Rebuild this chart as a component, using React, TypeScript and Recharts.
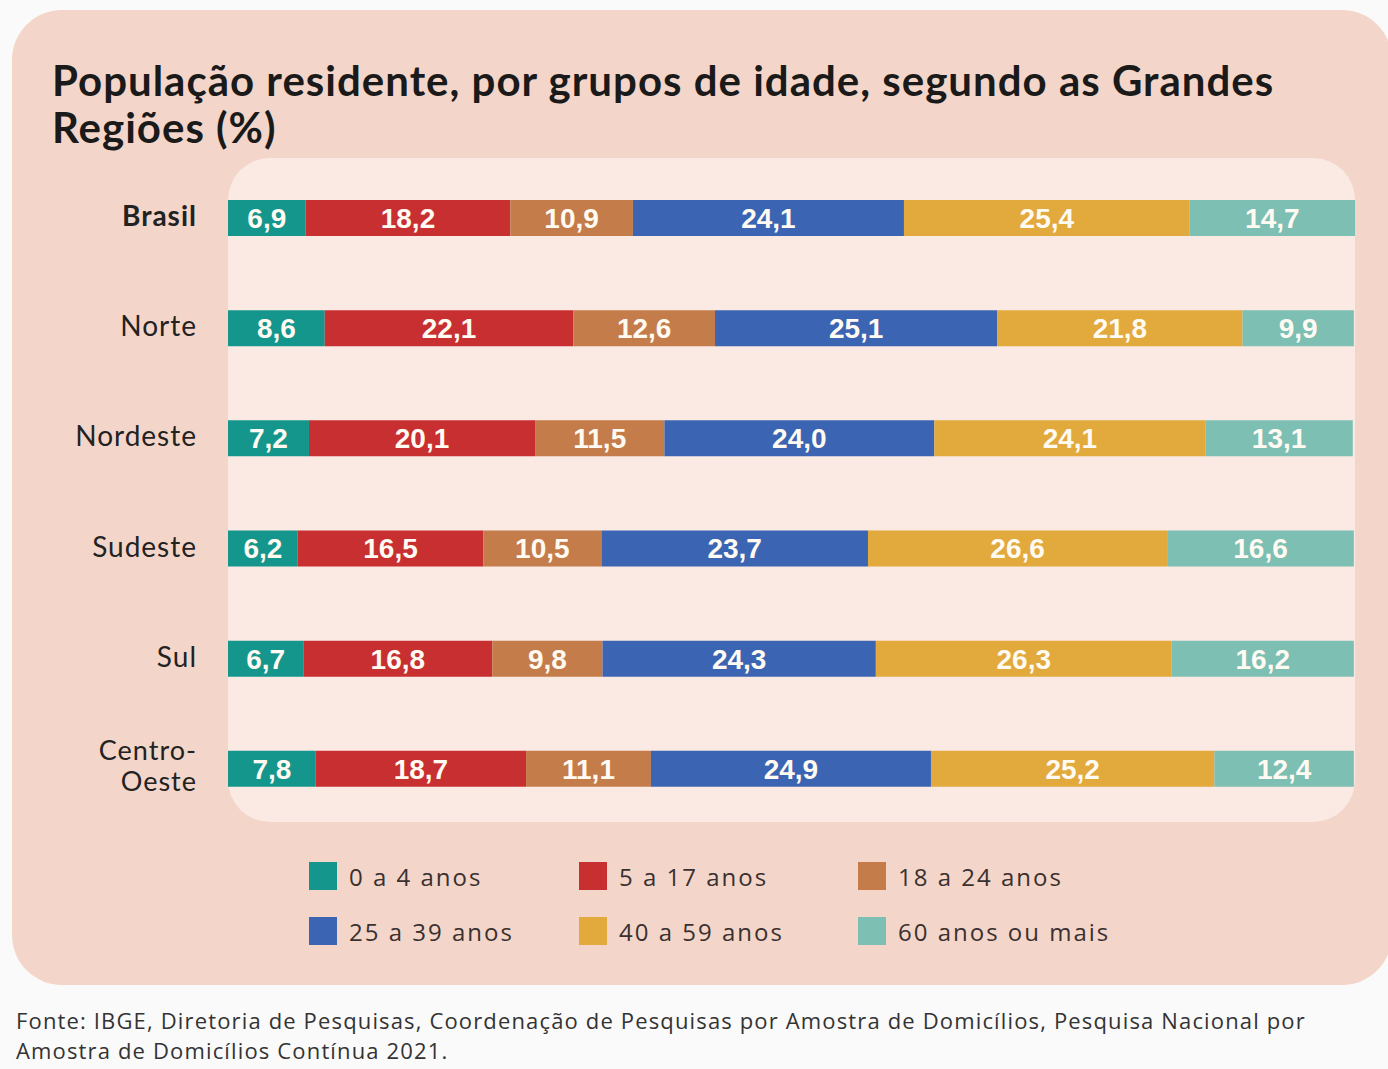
import { BarChart, Bar, XAxis, YAxis, LabelList, Legend } from 'recharts'

const regions = ['Brasil', 'Norte', 'Nordeste', 'Sudeste', 'Sul', 'Centro-Oeste']
const age0to4 = [6.9, 8.6, 7.2, 6.2, 6.7, 7.8]
const age5to17 = [18.2, 22.1, 20.1, 16.5, 16.8, 18.7]
const age18to24 = [10.9, 12.6, 11.5, 10.5, 9.8, 11.1]
const age25to39 = [24.1, 25.1, 24.0, 23.7, 24.3, 24.9]
const age40to59 = [25.4, 21.8, 24.1, 26.6, 26.3, 25.2]
const age60plus = [14.7, 9.9, 13.1, 16.6, 16.2, 12.4]

const groups = [
    { key: 'g0', name: '0 a 4 anos', color: '#14968c', values: age0to4 },
    { key: 'g1', name: '5 a 17 anos', color: '#c72f30', values: age5to17 },
    { key: 'g2', name: '18 a 24 anos', color: '#c47c4b', values: age18to24 },
    { key: 'g3', name: '25 a 39 anos', color: '#3b65b3', values: age25to39 },
    { key: 'g4', name: '40 a 59 anos', color: '#e2a93c', values: age40to59 },
    { key: 'g5', name: '60 anos ou mais', color: '#7dbfb3', values: age60plus },
]

const data = regions.map((region, i) => {
    const row: Record<string, string | number> = { region }
    groups.forEach(g => { row[g.key] = g.values[i] })
    return row
})

const fmt = (v: any) => Number(v).toFixed(1).replace('.', ',')

function RegionTick({ x, y, payload }: any) {
    const label: string = payload.value
    const style = { fontFamily: 'Lato, sans-serif', fontSize: 28, letterSpacing: 1, fill: '#222' }
    if (label === 'Centro-Oeste') {
        // two-line label, as in the original
        return (
            <text x={x} y={y} textAnchor="end" style={{ ...style, fontSize: 27 }}>
                <tspan x={x} dy={-9}>Centro-</tspan>
                <tspan x={x} dy={31}>Oeste</tspan>
            </text>
        )
    }
    return (
        <text x={x} y={y} dy={8} textAnchor="end" style={{ ...style, fontWeight: label === 'Brasil' ? 700 : 400 }}>
            {label}
        </text>
    )
}

function LegendGrid() {
    return (
        <div style={{ display: 'grid', gridTemplateColumns: '270px 279px 300px', rowGap: 27, marginLeft: 309 }}>
            {groups.map(g => (
                <div key={g.key} style={{ display: 'flex', alignItems: 'center', height: 28 }}>
                    <div style={{ width: 28, height: 28, background: g.color, marginRight: 12 }} />
                    <span style={{ fontFamily: '"Open Sans", sans-serif', fontSize: 24, letterSpacing: 2, color: '#3a3030', whiteSpace: 'nowrap' }}>
                        {g.name}
                    </span>
                </div>
            ))}
        </div>
    )
}

export default function App() {
    return (
        <div style={{ position: 'absolute', left: 0, top: 0, width: 1388, height: 1069, background: '#fafafa', overflow: 'hidden' }}>
            <div style={{ position: 'absolute', left: 12, top: 10, width: 1380, height: 975, borderRadius: 50, background: '#f3d6c9' }} />
            <div style={{ position: 'absolute', left: 228, top: 158, width: 1127, height: 664, borderRadius: 42, background: '#fbe9e3' }} />
            <div style={{ position: 'absolute', left: 52, top: 57, fontFamily: 'Lato, sans-serif', fontWeight: 700, fontSize: 42, letterSpacing: 1, lineHeight: '47px', color: '#1a1a1a', whiteSpace: 'nowrap' }}>
                População residente, por grupos de idade, segundo as Grandes<br />Regiões (%)
            </div>

            <div style={{ position: 'absolute', left: 0, top: 163 }}>
                <BarChart
                    width={1388}
                    height={811}
                    data={data}
                    layout="vertical"
                    margin={{ top: 0, right: 33, bottom: 67, left: 0 }}
                    barCategoryGap={0}
                >
                    <XAxis type="number" domain={[0, 100.2]} hide />
                    <YAxis
                        type="category"
                        dataKey="region"
                        width={228}
                        axisLine={false}
                        tickLine={false}
                        tickMargin={25}
                        tick={<RegionTick />}
                        interval={0}
                    />
                    <Legend
                        verticalAlign="bottom"
                        content={<LegendGrid />}
                        wrapperStyle={{ top: 699, bottom: 'auto', left: 0, width: 1388 }}
                    />
                    {groups.map(g => (
                        <Bar key={g.key} dataKey={g.key} name={g.name} stackId="a" fill={g.color} barSize={36} isAnimationActive={false}>
                            <LabelList
                                dataKey={g.key}
                                position="center"
                                formatter={fmt}
                                style={{ fill: '#fffaf2', fontFamily: '"Liberation Sans", Arial, sans-serif', fontSize: 28, fontWeight: 700 }}
                            />
                        </Bar>
                    ))}
                </BarChart>
            </div>

            <div style={{ position: 'absolute', left: 16, top: 1005, fontFamily: '"Open Sans", sans-serif', fontSize: 22, letterSpacing: 1.15, lineHeight: '30px', color: '#333', whiteSpace: 'nowrap' }}>
                Fonte: IBGE, Diretoria de Pesquisas, Coordenação de Pesquisas por Amostra de Domicílios, Pesquisa Nacional por<br />
                Amostra de Domicílios Contínua 2021.
            </div>
        </div>
    )
}
